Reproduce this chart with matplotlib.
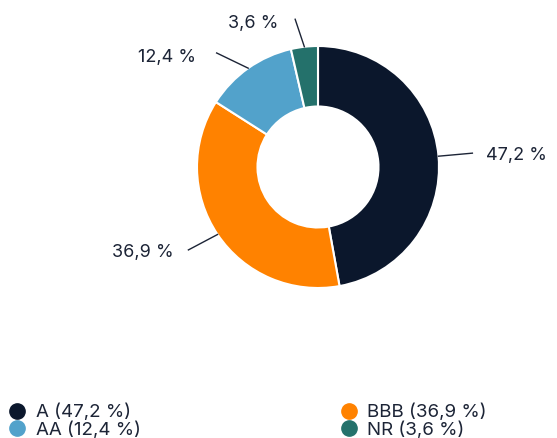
import numpy as np
import matplotlib.pyplot as plt
from matplotlib.lines import Line2D

plt.rcParams['font.family'] = ['Inter', 'DejaVu Sans']

# dati
categorie = ['A', 'BBB', 'AA', 'NR']
valori = [47.2, 36.9, 12.4, 3.6]
etichette = ['47,2 %', '36,9 %', '12,4 %', '3,6 %']
legenda = ['A (47,2 %)', 'BBB (36,9 %)', 'AA (12,4 %)', 'NR (3,6 %)']
colori = ['#0b172c', '#ff8200', '#52a2cb', '#24716b']
testo = '#1c2436'

W, H = 557, 438
fig = plt.figure(figsize=(W/100, H/100), dpi=100)
ax = fig.add_axes([0, 0, 1, 1])

cx, cy, R = 318, H-167, 121
wedges, _ = ax.pie(valori, colors=colori, startangle=90, counterclock=False,
                   center=(cx, cy), radius=R,
                   wedgeprops=dict(width=R*0.5, edgecolor='white', linewidth=1.5))
ax.set_xlim(0, W)
ax.set_ylim(0, H)
ax.set_aspect('equal')
ax.axis('off')

# linee guida: (lunghezza, deviazione angolo, spostamento testo x, y)
guide = [(34, 0, 14, -2, 'left'), (33, -6, -15, -3, 'right'),
         (35, 29, -21, -5, 'right'), (29, 12, -17, -4, 'right')]
for w, lab, (d, dev, tx, ty, ha) in zip(wedges, etichette, guide):
    ang = np.deg2rad((w.theta1 + w.theta2)/2)
    x0, y0 = cx + R*np.cos(ang), cy + R*np.sin(ang)
    a2 = ang + np.deg2rad(dev)
    x1, y1 = x0 + d*np.cos(a2), y0 + d*np.sin(a2)
    ax.plot([x0, x1], [y0, y1], color=testo, lw=1)
    ax.text(x1 + tx, y1 + ty, lab, ha=ha, va='center', fontsize=13, color=testo)

handles = [Line2D([], [], marker='o', ls='', color=c, markersize=11) for c in colori]
order = [0, 2, 1, 3]
fig.legend([handles[i] for i in order], [legenda[i] for i in order],
           loc='upper left', bbox_to_anchor=(8/W, 1-404/H), ncol=2, frameon=False,
           fontsize=13.5, labelcolor=testo, handletextpad=0.47, handlelength=1.0,
           columnspacing=10.6, labelspacing=0.0, borderpad=0, borderaxespad=0)

plt.savefig('out.png', dpi=100)
